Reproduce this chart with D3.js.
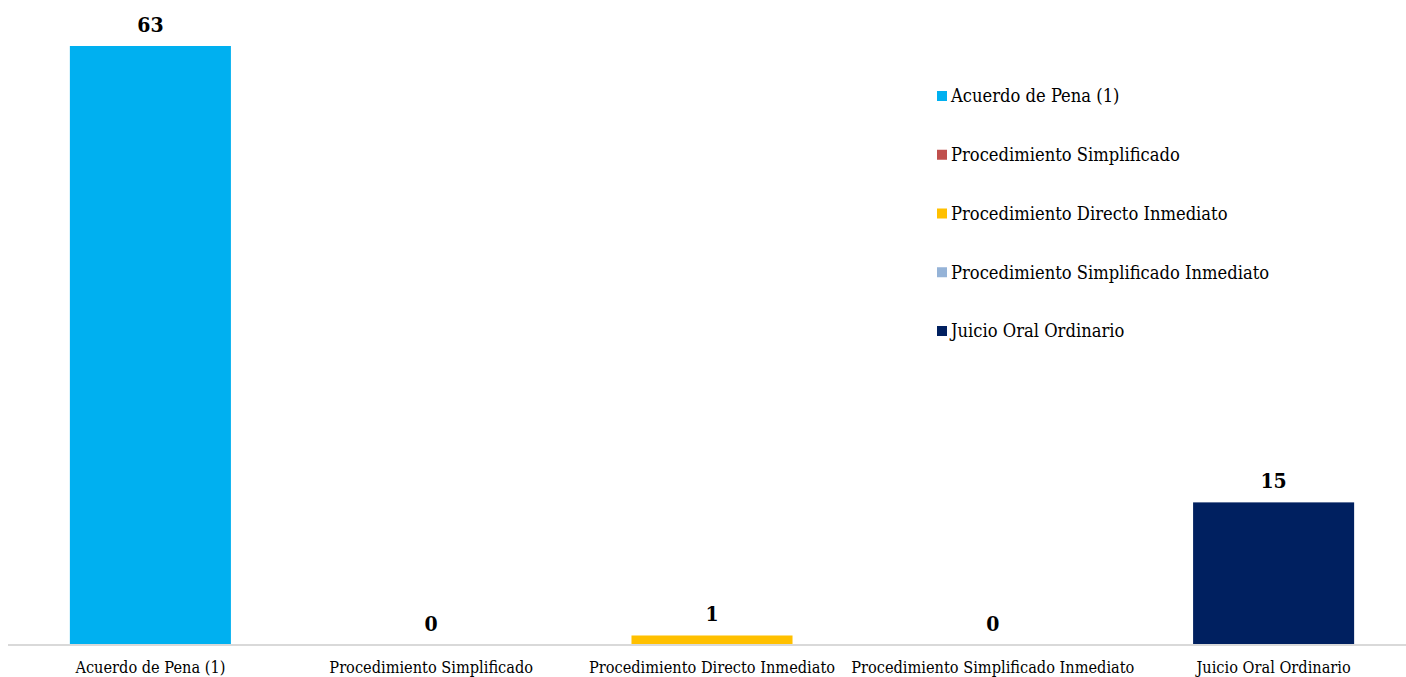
<!DOCTYPE html>
<html><head><meta charset="utf-8">
<script src="https://cdn.jsdelivr.net/npm/d3@7"></script>
<style>body{margin:0;background:#fff}svg{display:block}</style>
</head><body>
<svg id="c" width="1406" height="677"></svg>
<script>
const categories = ["Acuerdo de Pena (1)","Procedimiento Simplificado","Procedimiento Directo Inmediato","Procedimiento Simplificado Inmediato","Juicio Oral Ordinario"];
const values = [63,0,1,0,15];
const colors = ["#00B0F0","#C0504D","#FFC000","#95B3D7","#002060"];

const FONT = "'DejaVu Serif Condensed','DejaVu Serif',serif";
const svg = d3.select("#c");
const x = d3.scaleBand().domain(categories).range([10,1414]).paddingInner(0.4265).paddingOuter(0.2132);
const y = d3.scaleLinear().domain([0,63]).range([645,46]);

svg.append("g").selectAll("rect").data(categories).join("rect")
  .attr("x",d=>x(d)).attr("width",x.bandwidth())
  .attr("y",(d,i)=>y(values[i])).attr("height",(d,i)=>y(0)-y(values[i]))
  .attr("fill",(d,i)=>colors[i]);

const axis = d3.axisBottom(x).tickSize(0).tickPadding(16);
const ga = svg.append("g").attr("transform","translate(0,645)").call(axis);
ga.select(".domain").attr("stroke","#D9D9D9").attr("stroke-width",2).attr("d","M8,0H1406");
ga.selectAll("text").attr("font-family",FONT).attr("font-size",16.2).attr("fill","#000");

svg.append("g").selectAll("text").data(categories).join("text")
  .attr("x",d=>x(d)+x.bandwidth()/2).attr("y",(d,i)=>y(values[i])-14)
  .attr("text-anchor","middle").attr("font-family",FONT).attr("font-weight","bold")
  .attr("font-size",21).attr("fill","#000").text((d,i)=>values[i]);

const lg = svg.append("g").attr("transform","translate(937,0)");
const ly = d3.scalePoint().domain(categories).range([96,331]);
const items = lg.selectAll("g").data(categories).join("g").attr("transform",d=>`translate(0,${ly(d)})`);
items.append("rect").attr("x",0).attr("y",-5).attr("width",10).attr("height",10).attr("fill",(d,i)=>colors[i]);
items.append("text").attr("x",14).attr("y",0).attr("dy","0.35em").attr("font-family",FONT)
  .attr("font-size",18.2).attr("fill","#000").text(d=>d);
</script>
</body></html>
